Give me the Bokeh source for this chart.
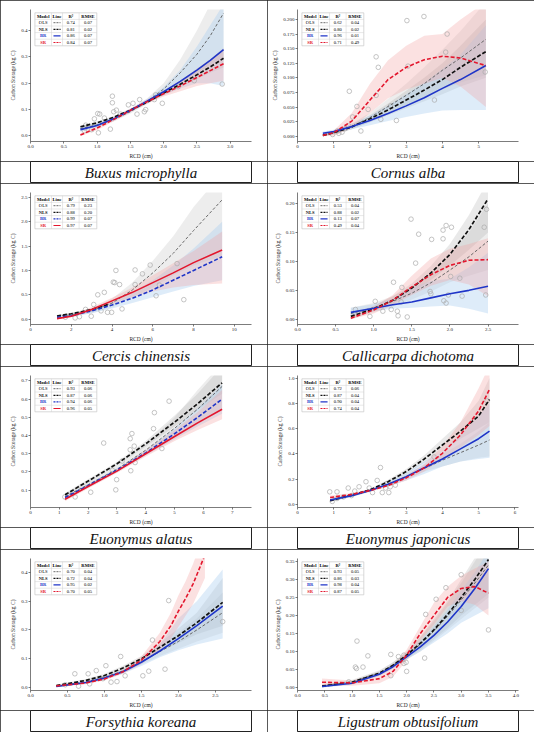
from bokeh.plotting import figure
from bokeh.layouts import gridplot
from bokeh.models import FixedTicker
from bokeh.core.properties import value
from bokeh.embed import file_html
from bokeh.resources import INLINE

SERIF = "Liberation Serif"
MODELS = ["OLS", "NLS", "BR", "SR"]

# ---------------- Panel 1: Buxus microphylla ----------------
p1_name = "Buxus microphylla"
p1_xrange = (0.0, 3.32)
p1_yrange = (-0.021, 0.48)
p1_xticks = [0.0, 0.5, 1.0, 1.5, 2.0, 2.5, 3.0]
p1_xlabels = ["0.0", "0.5", "1.0", "1.5", "2.0", "2.5", "3.0"]
p1_yticks = [0.0, 0.1, 0.2, 0.3, 0.4]
p1_ylabels = ["0.0", "0.1", "0.2", "0.3", "0.4"]
p1_r2 = ["0.74", "0.81", "0.86", "0.84"]
p1_rmse = ["0.07", "0.02", "0.07", "0.07"]
p1_px = [1.23, 1.23, 1.01, 1.04, 1.02, 0.82, 0.81, 0.92, 1.20, 1.25, 1.29, 1.35, 1.54, 1.64, 1.60, 1.71, 1.73, 1.86, 1.98, 2.22, 2.46, 2.88, 1.47, 0.83, 1.11, 0.96, 1.88]
p1_py = [0.151, 0.126, 0.085, 0.083, 0.012, 0.030, 0.020, 0.024, 0.026, 0.092, 0.098, 0.083, 0.124, 0.138, 0.083, 0.092, 0.100, 0.138, 0.124, 0.187, 0.210, 0.197, 0.118, 0.041, 0.068, 0.065, 0.156]
p1_cx = [0.75, 1.0, 1.25, 1.5, 1.75, 2.0, 2.25, 2.5, 2.7, 2.9]
p1_ols = [0.028, 0.042, 0.062, 0.092, 0.13, 0.178, 0.24, 0.31, 0.38, 0.466]
p1_ols_lo = [0.02, 0.035, 0.055, 0.085, 0.12, 0.16, 0.2, 0.24, 0.27, 0.3]
p1_ols_hi = [0.036, 0.05, 0.07, 0.1, 0.142, 0.2, 0.29, 0.4, 0.5, 0.6]
p1_nls = [0.035, 0.05, 0.071, 0.098, 0.128, 0.163, 0.196, 0.232, 0.262, 0.295]
p1_nls_lo = [0.03, 0.045, 0.066, 0.093, 0.123, 0.155, 0.185, 0.215, 0.24, 0.26]
p1_nls_hi = [0.04, 0.055, 0.076, 0.103, 0.134, 0.172, 0.21, 0.255, 0.29, 0.335]
p1_br = [0.024, 0.04, 0.065, 0.097, 0.132, 0.168, 0.207, 0.25, 0.287, 0.328]
p1_br_lo = [0.015, 0.032, 0.058, 0.09, 0.125, 0.155, 0.18, 0.2, 0.2, 0.19]
p1_br_hi = [0.034, 0.048, 0.072, 0.104, 0.14, 0.185, 0.25, 0.34, 0.42, 0.5]
p1_sr = [0.004, 0.03, 0.063, 0.097, 0.13, 0.16, 0.19, 0.222, 0.248, 0.274]
p1_sr_lo = [0.0, 0.022, 0.056, 0.09, 0.122, 0.15, 0.17, 0.19, 0.2, 0.21]
p1_sr_hi = [0.01, 0.038, 0.07, 0.104, 0.138, 0.17, 0.21, 0.255, 0.29, 0.33]

# ---------------- Panel 2: Cornus alba ----------------
p2_name = "Cornus alba"
p2_xrange = (0.0, 6.1)
p2_yrange = (-0.009, 0.217)
p2_xticks = [0, 1, 2, 3, 4, 5]
p2_xlabels = ["0", "1", "2", "3", "4", "5"]
p2_yticks = [0.0, 0.025, 0.05, 0.075, 0.1, 0.125, 0.15, 0.175, 0.2]
p2_ylabels = ["0.000", "0.025", "0.050", "0.075", "0.100", "0.125", "0.150", "0.175", "0.200"]
p2_r2 = ["0.62", "0.80", "0.96", "0.71"]
p2_rmse = ["0.04", "0.02", "0.01", "0.49"]
p2_px = [3.02, 3.49, 4.13, 2.17, 2.23, 3.05, 4.09, 1.43, 2.17, 1.64, 1.52, 1.75, 2.73, 2.30, 5.18, 3.78, 1.14, 1.23, 1.32, 1.41, 1.10, 0.97, 1.95, 2.57]
p2_py = [0.198, 0.205, 0.175, 0.136, 0.118, 0.120, 0.144, 0.077, 0.070, 0.051, 0.033, 0.009, 0.027, 0.029, 0.110, 0.062, 0.005, 0.007, 0.013, 0.018, 0.009, 0.003, 0.046, 0.052]
p2_cx = [0.7, 1.0, 1.5, 2.0, 2.5, 3.0, 3.5, 4.0, 4.5, 5.2]
p2_ols = [0.0015, 0.006, 0.017, 0.032, 0.051, 0.07, 0.09, 0.113, 0.134, 0.166]
p2_ols_lo = [0.0, 0.003, 0.012, 0.024, 0.038, 0.052, 0.066, 0.08, 0.092, 0.105]
p2_ols_hi = [0.004, 0.009, 0.022, 0.04, 0.064, 0.09, 0.118, 0.148, 0.18, 0.23]
p2_nls = [0.0015, 0.006, 0.016, 0.03, 0.045, 0.062, 0.079, 0.097, 0.118, 0.145]
p2_nls_lo = [0.0, 0.003, 0.012, 0.024, 0.036, 0.048, 0.06, 0.072, 0.085, 0.1]
p2_nls_hi = [0.004, 0.009, 0.02, 0.036, 0.056, 0.078, 0.1, 0.125, 0.155, 0.2]
p2_br = [0.005, 0.008, 0.0165, 0.027, 0.039, 0.052, 0.066, 0.082, 0.097, 0.121]
p2_br_lo = [0.002, 0.005, 0.012, 0.019, 0.026, 0.033, 0.039, 0.044, 0.045, 0.045]
p2_br_hi = [0.008, 0.011, 0.021, 0.035, 0.052, 0.072, 0.092, 0.115, 0.14, 0.19]
p2_sr = [0.0015, 0.006, 0.026, 0.062, 0.097, 0.118, 0.131, 0.137, 0.134, 0.121]
p2_sr_lo = [0.0, 0.001, 0.014, 0.04, 0.065, 0.08, 0.09, 0.1, 0.085, 0.05]
p2_sr_hi = [0.004, 0.01, 0.04, 0.09, 0.13, 0.155, 0.172, 0.175, 0.2, 0.23]

# ---------------- Panel 3: Cercis chinensis ----------------
p3_name = "Cercis chinensis"
p3_xrange = (0.0, 10.84)
p3_yrange = (-0.11, 2.6)
p3_xticks = [0, 2, 4, 6, 8, 10]
p3_xlabels = ["0", "2", "4", "6", "8", "10"]
p3_yticks = [0.0, 0.5, 1.0, 1.5, 2.0, 2.5]
p3_ylabels = ["0.0", "0.5", "1.0", "1.5", "2.0", "2.5"]
p3_r2 = ["0.79", "0.88", "0.99", "0.97"]
p3_rmse = ["0.23", "0.20", "0.07", "0.07"]
p3_px = [3.30, 3.62, 4.19, 4.06, 4.13, 4.37, 5.13, 5.49, 5.87, 7.19, 6.16, 7.52, 4.49, 3.98, 3.78, 3.46, 2.98, 2.40, 2.19, 1.71, 5.13, 6.32, 3.10, 2.70]
p3_py = [0.50, 0.55, 1.00, 0.76, 0.75, 0.71, 1.01, 0.93, 1.11, 1.14, 0.48, 0.40, 0.21, 0.14, 0.14, 0.17, 0.06, 0.05, 0.025, 0.04, 0.71, 0.70, 0.30, 0.20]
p3_cx = [1.3, 2.0, 3.0, 4.0, 5.0, 6.0, 7.0, 8.0, 9.4]
p3_ols = [0.06, 0.09, 0.17, 0.33, 0.6, 0.95, 1.35, 1.82, 2.45]
p3_ols_lo = [0.03, 0.06, 0.12, 0.24, 0.45, 0.65, 0.9, 1.1, 1.3]
p3_ols_hi = [0.09, 0.13, 0.22, 0.42, 0.75, 1.2, 1.7, 2.3, 3.0]
p3_nls_x = [1.3, 2.0, 2.5, 3.0, 3.8]
p3_nls = [0.065, 0.11, 0.15, 0.2, 0.3]
p3_nls_lo = [0.05, 0.09, 0.13, 0.17, 0.26]
p3_nls_hi = [0.08, 0.13, 0.17, 0.23, 0.34]
p3_br = [0.04, 0.07, 0.17, 0.29, 0.43, 0.6, 0.8, 1.0, 1.28]
p3_br_lo = [0.02, 0.05, 0.12, 0.22, 0.33, 0.45, 0.57, 0.68, 0.8]
p3_br_hi = [0.06, 0.1, 0.22, 0.37, 0.55, 0.8, 1.1, 1.45, 2.0]
p3_sr = [0.01, 0.06, 0.2, 0.375, 0.55, 0.75, 0.95, 1.16, 1.42]
p3_sr_lo = [0.0, 0.04, 0.16, 0.31, 0.45, 0.57, 0.65, 0.7, 0.73]
p3_sr_hi = [0.03, 0.08, 0.25, 0.44, 0.65, 0.9, 1.15, 1.4, 1.8]

# ---------------- Panel 4: Callicarpa dichotoma ----------------
p4_name = "Callicarpa dichotoma"
p4_xrange = (0.0, 2.9)
p4_yrange = (-0.009, 0.219)
p4_xticks = [0.0, 0.5, 1.0, 1.5, 2.0, 2.5]
p4_xlabels = ["0.0", "0.5", "1.0", "1.5", "2.0", "2.5"]
p4_yticks = [0.0, 0.05, 0.1, 0.15, 0.2]
p4_ylabels = ["0.00", "0.05", "0.10", "0.15", "0.20"]
p4_r2 = ["0.53", "0.88", "0.13", "0.49"]
p4_rmse = ["0.04", "0.02", "0.07", "0.04"]
p4_px = [1.49, 1.59, 1.76, 1.95, 2.02, 1.91, 1.91, 2.45, 2.48, 2.47, 2.16, 2.13, 2.01, 1.98, 1.92, 1.95, 1.74, 1.75, 1.55, 1.26, 1.37, 1.31, 1.32, 1.02, 1.23, 1.12, 0.95, 0.76, 1.44, 1.36]
p4_py = [0.173, 0.147, 0.138, 0.162, 0.159, 0.154, 0.139, 0.159, 0.190, 0.042, 0.040, 0.071, 0.074, 0.042, 0.032, 0.028, 0.048, 0.044, 0.097, 0.064, 0.055, 0.014, 0.006, 0.031, 0.017, 0.014, 0.005, 0.017, 0.004, 0.030]
p4_cx = [0.7, 1.0, 1.25, 1.5, 1.75, 2.0, 2.25, 2.5]
p4_ols = [0.01, 0.02, 0.031, 0.045, 0.063, 0.085, 0.108, 0.135]
p4_ols_lo = [0.0, 0.012, 0.022, 0.034, 0.048, 0.064, 0.075, 0.085]
p4_ols_hi = [0.02, 0.028, 0.04, 0.057, 0.08, 0.11, 0.15, 0.2]
p4_nls = [0.005, 0.018, 0.033, 0.054, 0.08, 0.112, 0.155, 0.208]
p4_nls_lo = [0.0, 0.014, 0.027, 0.046, 0.068, 0.093, 0.12, 0.15]
p4_nls_hi = [0.01, 0.023, 0.04, 0.062, 0.092, 0.13, 0.18, 0.24]
p4_br = [0.012, 0.019, 0.025, 0.03, 0.037, 0.044, 0.05, 0.057]
p4_br_lo = [0.006, 0.014, 0.018, 0.02, 0.022, 0.024, 0.018, 0.01]
p4_br_hi = [0.02, 0.026, 0.035, 0.055, 0.066, 0.07, 0.09, 0.115]
p4_sr = [0.002, 0.016, 0.033, 0.056, 0.077, 0.093, 0.102, 0.103]
p4_sr_lo = [0.0, 0.01, 0.025, 0.042, 0.058, 0.068, 0.06, 0.04]
p4_sr_hi = [0.006, 0.022, 0.042, 0.075, 0.105, 0.122, 0.13, 0.14]

# ---------------- Panel 5: Euonymus alatus ----------------
p5_name = "Euonymus alatus"
p5_xrange = (0.0, 7.67)
p5_yrange = (0.005, 0.73)
p5_xticks = [0, 1, 2, 3, 4, 5, 6, 7]
p5_xlabels = ["0", "1", "2", "3", "4", "5", "6", "7"]
p5_yticks = [0.1, 0.2, 0.3, 0.4, 0.5, 0.6, 0.7]
p5_ylabels = ["0.1", "0.2", "0.3", "0.4", "0.5", "0.6", "0.7"]
p5_r2 = ["0.93", "0.87", "0.94", "0.96"]
p5_rmse = ["0.06", "0.06", "0.06", "0.05"]
p5_px = [4.81, 4.30, 4.27, 3.52, 3.46, 2.54, 3.60, 3.46, 4.56, 3.48, 2.99, 2.96, 2.09, 1.55, 1.19, 3.18, 2.84, 3.63]
p5_py = [0.589, 0.526, 0.438, 0.411, 0.383, 0.359, 0.342, 0.322, 0.329, 0.207, 0.158, 0.102, 0.089, 0.063, 0.063, 0.26, 0.21, 0.252]
p5_cx = [1.2, 2.0, 3.0, 4.0, 5.0, 5.8, 6.65]
p5_ols = [0.065, 0.13, 0.215, 0.32, 0.44, 0.545, 0.67]
p5_ols_lo = [0.05, 0.115, 0.2, 0.3, 0.39, 0.46, 0.55]
p5_ols_hi = [0.08, 0.145, 0.235, 0.35, 0.5, 0.65, 0.8]
p5_nls = [0.075, 0.15, 0.245, 0.355, 0.474, 0.575, 0.69]
p5_nls_lo = [0.065, 0.14, 0.235, 0.34, 0.45, 0.54, 0.63]
p5_nls_hi = [0.085, 0.16, 0.255, 0.37, 0.51, 0.63, 0.78]
p5_br = [0.06, 0.125, 0.21, 0.305, 0.41, 0.5, 0.6]
p5_br_lo = [0.05, 0.115, 0.2, 0.29, 0.38, 0.45, 0.52]
p5_br_hi = [0.07, 0.135, 0.22, 0.32, 0.44, 0.55, 0.68]
p5_sr = [0.05, 0.12, 0.205, 0.3, 0.395, 0.47, 0.545]
p5_sr_lo = [0.04, 0.11, 0.195, 0.285, 0.37, 0.43, 0.49]
p5_sr_hi = [0.06, 0.13, 0.215, 0.32, 0.43, 0.53, 0.65]

# ---------------- Panel 6: Euonymus japonicus ----------------
p6_name = "Euonymus japonicus"
p6_xrange = (0.0, 6.1)
p6_yrange = (-0.024, 1.02)
p6_xticks = [0, 1, 2, 3, 4, 5, 6]
p6_xlabels = ["0", "1", "2", "3", "4", "5", "6"]
p6_yticks = [0.0, 0.2, 0.4, 0.6, 0.8, 1.0]
p6_ylabels = ["0.0", "0.2", "0.4", "0.6", "0.8", "1.0"]
p6_r2 = ["0.72", "0.87", "0.90", "0.74"]
p6_rmse = ["0.06", "0.04", "0.04", "0.04"]
p6_px = [2.29, 1.89, 2.20, 0.89, 1.09, 1.40, 1.70, 1.98, 2.07, 2.34, 2.52, 2.56, 2.70, 2.47, 1.58, 1.49, 1.27, 1.09, 0.96, 3.77, 5.23, 2.43]
p6_py = [0.292, 0.18, 0.19, 0.10, 0.10, 0.13, 0.14, 0.13, 0.094, 0.094, 0.094, 0.14, 0.153, 0.165, 0.106, 0.07, 0.06, 0.047, 0.024, 0.376, 0.82, 0.13]
p6_cx = [0.9, 1.5, 2.0, 2.5, 3.0, 3.5, 4.0, 4.5, 5.0, 5.3]
p6_ols = [0.035, 0.07, 0.11, 0.16, 0.22, 0.285, 0.35, 0.41, 0.47, 0.51]
p6_ols_lo = [0.02, 0.06, 0.1, 0.15, 0.2, 0.26, 0.3, 0.34, 0.37, 0.38]
p6_ols_hi = [0.05, 0.08, 0.12, 0.17, 0.24, 0.31, 0.4, 0.48, 0.58, 0.65]
p6_nls = [0.03, 0.075, 0.115, 0.18, 0.26, 0.36, 0.47, 0.58, 0.70, 0.83]
p6_nls_lo = [0.02, 0.065, 0.105, 0.165, 0.24, 0.33, 0.42, 0.52, 0.6, 0.65]
p6_nls_hi = [0.04, 0.085, 0.125, 0.195, 0.28, 0.39, 0.52, 0.65, 0.82, 1.0]
p6_br = [0.035, 0.07, 0.11, 0.16, 0.22, 0.29, 0.36, 0.44, 0.52, 0.58]
p6_br_lo = [0.025, 0.06, 0.1, 0.145, 0.19, 0.24, 0.3, 0.34, 0.36, 0.37]
p6_br_hi = [0.045, 0.08, 0.12, 0.175, 0.25, 0.34, 0.42, 0.55, 0.7, 0.8]
p6_sr = [0.055, 0.08, 0.11, 0.15, 0.21, 0.29, 0.405, 0.55, 0.74, 0.91]
p6_sr_lo = [0.04, 0.07, 0.1, 0.14, 0.19, 0.26, 0.36, 0.45, 0.55, 0.62]
p6_sr_hi = [0.07, 0.09, 0.12, 0.16, 0.23, 0.32, 0.46, 0.65, 0.92, 1.1]

# ---------------- Panel 7: Forsythia koreana ----------------
p7_name = "Forsythia koreana"
p7_xrange = (0.0, 2.99)
p7_yrange = (-0.01, 0.448)
p7_xticks = [0.0, 0.5, 1.0, 1.5, 2.0, 2.5]
p7_xlabels = ["0.0", "0.5", "1.0", "1.5", "2.0", "2.5"]
p7_yticks = [0.0, 0.1, 0.2, 0.3, 0.4]
p7_ylabels = ["0.0", "0.1", "0.2", "0.3", "0.4"]
p7_r2 = ["0.70", "0.72", "0.95", "0.70"]
p7_rmse = ["0.04", "0.04", "0.02", "0.05"]
p7_px = [1.87, 1.65, 1.22, 1.02, 1.82, 2.60, 1.60, 1.52, 1.28, 1.17, 1.09, 0.89, 0.78, 0.60, 0.80, 0.98, 0.65, 0.47]
p7_py = [0.302, 0.165, 0.108, 0.076, 0.064, 0.229, 0.057, 0.041, 0.041, 0.021, 0.019, 0.059, 0.048, 0.048, 0.013, 0.031, 0.005, 0.010]
p7_cx = [0.35, 0.75, 1.0, 1.25, 1.5, 1.75, 2.0, 2.25, 2.6]
p7_ols = [0.005, 0.02, 0.035, 0.058, 0.09, 0.125, 0.16, 0.2, 0.26]
p7_ols_lo = [0.002, 0.015, 0.03, 0.05, 0.08, 0.11, 0.135, 0.16, 0.19]
p7_ols_hi = [0.008, 0.025, 0.04, 0.066, 0.1, 0.14, 0.19, 0.24, 0.33]
p7_nls = [0.007, 0.025, 0.042, 0.068, 0.10, 0.14, 0.18, 0.225, 0.296]
p7_nls_lo = [0.004, 0.02, 0.036, 0.06, 0.09, 0.125, 0.155, 0.185, 0.215]
p7_nls_hi = [0.01, 0.03, 0.048, 0.076, 0.11, 0.155, 0.205, 0.26, 0.38]
p7_br = [0.004, 0.018, 0.033, 0.055, 0.088, 0.127, 0.17, 0.215, 0.283]
p7_br_lo = [0.002, 0.014, 0.028, 0.048, 0.075, 0.105, 0.13, 0.15, 0.17]
p7_br_hi = [0.007, 0.022, 0.038, 0.062, 0.1, 0.15, 0.24, 0.3, 0.41]
p7_sr_x = [0.35, 0.75, 1.0, 1.25, 1.5, 1.75, 1.9, 2.0, 2.1, 2.2, 2.36]
p7_sr = [0.006, 0.016, 0.03, 0.055, 0.095, 0.16, 0.215, 0.265, 0.31, 0.36, 0.46]
p7_sr_lo = [0.002, 0.012, 0.025, 0.048, 0.082, 0.13, 0.17, 0.21, 0.25, 0.29, 0.38]
p7_sr_hi = [0.01, 0.02, 0.035, 0.062, 0.108, 0.19, 0.26, 0.32, 0.37, 0.43, 0.54]

# ---------------- Panel 8: Ligustrum obtusifolium ----------------
p8_name = "Ligustrum obtusifolium"
p8_xrange = (0.0, 4.05)
p8_yrange = (-0.008, 0.358)
p8_xticks = [0.0, 0.5, 1.0, 1.5, 2.0, 2.5, 3.0, 3.5, 4.0]
p8_xlabels = ["0.0", "0.5", "1.0", "1.5", "2.0", "2.5", "3.0", "3.5", "4.0"]
p8_yticks = [0.0, 0.05, 0.1, 0.15, 0.2, 0.25, 0.3, 0.35]
p8_ylabels = ["0.00", "0.05", "0.10", "0.15", "0.20", "0.25", "0.30", "0.35"]
p8_r2 = ["0.93", "0.86", "0.98", "0.87"]
p8_rmse = ["0.05", "0.03", "0.04", "0.05"]
p8_px = [3.00, 2.72, 2.54, 3.50, 3.00, 2.35, 1.09, 1.29, 1.06, 1.08, 1.20, 1.71, 1.85, 1.95, 1.99, 2.00, 2.33, 1.71, 0.94, 1.95]
p8_py = [0.313, 0.277, 0.245, 0.160, 0.214, 0.203, 0.129, 0.088, 0.057, 0.053, 0.057, 0.092, 0.086, 0.067, 0.070, 0.045, 0.082, 0.033, 0.016, 0.090]
p8_cx = [0.45, 1.0, 1.5, 1.75, 2.0, 2.25, 2.5, 2.75, 3.0, 3.25, 3.5]
p8_ols = [0.005, 0.016, 0.041, 0.062, 0.088, 0.12, 0.157, 0.198, 0.243, 0.29, 0.34]
p8_ols_lo = [0.0, 0.01, 0.033, 0.053, 0.078, 0.1, 0.13, 0.16, 0.19, 0.22, 0.25]
p8_ols_hi = [0.01, 0.022, 0.048, 0.07, 0.098, 0.14, 0.185, 0.235, 0.29, 0.35, 0.41]
p8_nls = [0.004, 0.015, 0.04, 0.062, 0.09, 0.123, 0.16, 0.203, 0.25, 0.3, 0.355]
p8_nls_lo = [0.0, 0.01, 0.034, 0.055, 0.08, 0.105, 0.135, 0.165, 0.2, 0.23, 0.26]
p8_nls_hi = [0.008, 0.02, 0.046, 0.07, 0.1, 0.14, 0.19, 0.24, 0.3, 0.36, 0.42]
p8_br = [0.003, 0.012, 0.037, 0.058, 0.085, 0.113, 0.145, 0.182, 0.225, 0.275, 0.33]
p8_br_lo = [0.0, 0.008, 0.032, 0.052, 0.078, 0.1, 0.125, 0.15, 0.18, 0.2, 0.22]
p8_br_hi = [0.006, 0.016, 0.042, 0.064, 0.095, 0.13, 0.17, 0.215, 0.27, 0.32, 0.38]
p8_sr = [0.015, 0.013, 0.025, 0.045, 0.09, 0.15, 0.2, 0.25, 0.275, 0.28, 0.262]
p8_sr_lo = [0.005, 0.005, 0.012, 0.03, 0.075, 0.13, 0.175, 0.225, 0.24, 0.23, 0.2]
p8_sr_hi = [0.025, 0.02, 0.04, 0.06, 0.105, 0.17, 0.235, 0.28, 0.31, 0.33, 0.35]

# ---------------- styles ----------------
COL = {"OLS": "#5a5a5a", "NLS": "#111111", "BR": "#1f35c8", "SR": "#e3172e"}
BAND = {"OLS": ("#c4c4c4", 0.30), "NLS": ("#9a9a9a", 0.22), "BR": ("#a9cdee", 0.38), "SR": ("#f4a2a2", 0.32)}
WID = {"OLS": 0.9, "NLS": 1.7, "BR": 1.6, "SR": 1.6}
DASH_OLS = "3 2"
DASH_NLS = "4 2"

def spec(name, xr, yr, xt, xl, yt, yl, r2, rmse, px, py, curves, br_dash, sr_dash):
    return dict(name=name, xr=xr, yr=yr, xt=xt, xl=xl, yt=yt, yl=yl, r2=r2, rmse=rmse,
                px=px, py=py, curves=curves, dash={"OLS": DASH_OLS, "NLS": DASH_NLS, "BR": br_dash, "SR": sr_dash})

specs = [
    spec(p1_name, p1_xrange, p1_yrange, p1_xticks, p1_xlabels, p1_yticks, p1_ylabels, p1_r2, p1_rmse, p1_px, p1_py,
         {"OLS": (p1_cx, p1_ols, p1_ols_lo, p1_ols_hi), "NLS": (p1_cx, p1_nls, p1_nls_lo, p1_nls_hi),
          "BR": (p1_cx, p1_br, p1_br_lo, p1_br_hi), "SR": (p1_cx, p1_sr, p1_sr_lo, p1_sr_hi)}, "solid", DASH_NLS),
    spec(p2_name, p2_xrange, p2_yrange, p2_xticks, p2_xlabels, p2_yticks, p2_ylabels, p2_r2, p2_rmse, p2_px, p2_py,
         {"OLS": (p2_cx, p2_ols, p2_ols_lo, p2_ols_hi), "NLS": (p2_cx, p2_nls, p2_nls_lo, p2_nls_hi),
          "BR": (p2_cx, p2_br, p2_br_lo, p2_br_hi), "SR": (p2_cx, p2_sr, p2_sr_lo, p2_sr_hi)}, "solid", DASH_NLS),
    spec(p3_name, p3_xrange, p3_yrange, p3_xticks, p3_xlabels, p3_yticks, p3_ylabels, p3_r2, p3_rmse, p3_px, p3_py,
         {"OLS": (p3_cx, p3_ols, p3_ols_lo, p3_ols_hi), "NLS": (p3_nls_x, p3_nls, p3_nls_lo, p3_nls_hi),
          "BR": (p3_cx, p3_br, p3_br_lo, p3_br_hi), "SR": (p3_cx, p3_sr, p3_sr_lo, p3_sr_hi)}, DASH_NLS, "solid"),
    spec(p4_name, p4_xrange, p4_yrange, p4_xticks, p4_xlabels, p4_yticks, p4_ylabels, p4_r2, p4_rmse, p4_px, p4_py,
         {"OLS": (p4_cx, p4_ols, p4_ols_lo, p4_ols_hi), "NLS": (p4_cx, p4_nls, p4_nls_lo, p4_nls_hi),
          "BR": (p4_cx, p4_br, p4_br_lo, p4_br_hi), "SR": (p4_cx, p4_sr, p4_sr_lo, p4_sr_hi)}, "solid", DASH_NLS),
    spec(p5_name, p5_xrange, p5_yrange, p5_xticks, p5_xlabels, p5_yticks, p5_ylabels, p5_r2, p5_rmse, p5_px, p5_py,
         {"OLS": (p5_cx, p5_ols, p5_ols_lo, p5_ols_hi), "NLS": (p5_cx, p5_nls, p5_nls_lo, p5_nls_hi),
          "BR": (p5_cx, p5_br, p5_br_lo, p5_br_hi), "SR": (p5_cx, p5_sr, p5_sr_lo, p5_sr_hi)}, DASH_NLS, "solid"),
    spec(p6_name, p6_xrange, p6_yrange, p6_xticks, p6_xlabels, p6_yticks, p6_ylabels, p6_r2, p6_rmse, p6_px, p6_py,
         {"OLS": (p6_cx, p6_ols, p6_ols_lo, p6_ols_hi), "NLS": (p6_cx, p6_nls, p6_nls_lo, p6_nls_hi),
          "BR": (p6_cx, p6_br, p6_br_lo, p6_br_hi), "SR": (p6_cx, p6_sr, p6_sr_lo, p6_sr_hi)}, "solid", DASH_NLS),
    spec(p7_name, p7_xrange, p7_yrange, p7_xticks, p7_xlabels, p7_yticks, p7_ylabels, p7_r2, p7_rmse, p7_px, p7_py,
         {"OLS": (p7_cx, p7_ols, p7_ols_lo, p7_ols_hi), "NLS": (p7_cx, p7_nls, p7_nls_lo, p7_nls_hi),
          "BR": (p7_cx, p7_br, p7_br_lo, p7_br_hi), "SR": (p7_sr_x, p7_sr, p7_sr_lo, p7_sr_hi)}, "solid", DASH_NLS),
    spec(p8_name, p8_xrange, p8_yrange, p8_xticks, p8_xlabels, p8_yticks, p8_ylabels, p8_r2, p8_rmse, p8_px, p8_py,
         {"OLS": (p8_cx, p8_ols, p8_ols_lo, p8_ols_hi), "NLS": (p8_cx, p8_nls, p8_nls_lo, p8_nls_hi),
          "BR": (p8_cx, p8_br, p8_br_lo, p8_br_hi), "SR": (p8_cx, p8_sr, p8_sr_lo, p8_sr_hi)}, "solid", DASH_NLS),
]

W = 267
HP = 161
HT = 22
BORDER = {"outline": "1px solid #222222", "outline-offset": "-1px"}

def draw_table(p, s):
    xr, yr = s["xr"], s["yr"]
    X = lambda f: xr[0] + f * (xr[1] - xr[0])
    Y = lambda f: yr[0] + f * (yr[1] - yr[0])
    cols = [0.02, 0.095, 0.145, 0.22, 0.30]
    rows = [0.975, 0.925, 0.875, 0.825, 0.775, 0.725]
    p.quad(left=[X(cols[0])], right=[X(cols[-1])], top=[Y(rows[0])], bottom=[Y(rows[-1])],
           fill_color="white", fill_alpha=0.95, line_color="#bdbdbd", line_width=0.6)
    xs, ys = [], []
    for r in rows[1:-1]:
        xs.append([X(cols[0]), X(cols[-1])]); ys.append([Y(r), Y(r)])
    for c in cols[1:-1]:
        xs.append([X(c), X(c)]); ys.append([Y(rows[0]), Y(rows[-1])])
    p.multi_line(xs=xs, ys=ys, line_color="#d0d0d0", line_width=0.5)
    cc = [(cols[i] + cols[i + 1]) / 2 for i in range(4)]
    rc = [(rows[i] + rows[i + 1]) / 2 for i in range(5)]
    common = dict(text_font=value(SERIF), text_font_size="4.6px", text_align="center", text_baseline="middle")
    p.text(x=[X(c) for c in cc], y=[Y(rc[0])] * 4, text=["Model", "Line", "R\u00b2", "RMSE"],
           text_color="black", text_font_style="bold", **common)
    p.text(x=[X(cc[0])], y=[Y(rc[1])], text=[MODELS[0]], text_color="black", **common)
    p.text(x=[X(cc[0])] * 3, y=[Y(rc[i]) for i in (2, 3, 4)], text=MODELS[1:],
           text_color=[COL["NLS"], COL["BR"], COL["SR"]], text_font_style="bold", **common)
    p.text(x=[X(cc[2])] * 4, y=[Y(r) for r in rc[1:]], text=s["r2"], text_color="black", **common)
    p.text(x=[X(cc[3])] * 4, y=[Y(r) for r in rc[1:]], text=s["rmse"], text_color="black", **common)
    for i, m in enumerate(MODELS):
        yy = Y(rc[i + 1])
        p.line(x=[X(0.104), X(0.136)], y=[yy, yy], line_color=COL[m],
               line_width=min(WID[m], 1.2), line_dash="solid" if s["dash"][m] == "solid" else "2 1")

def make_panel(s):
    p = figure(width=W, height=HP, x_range=s["xr"], y_range=s["yr"], output_backend="svg",
               toolbar_location=None, min_border_left=30, min_border_right=16,
               min_border_top=9, min_border_bottom=0)
    p.styles = BORDER
    p.outline_line_color = None
    p.grid.visible = False
    for m in MODELS:
        cx, cy, lo, hi = s["curves"][m]
        fc, fa = BAND[m]
        p.varea(x=cx, y1=lo, y2=hi, fill_color=fc, fill_alpha=fa)
    p.scatter(x=s["px"], y=s["py"], marker="circle", size=4.6, fill_color=None,
              line_color="#ababab", line_width=0.7)
    for m in MODELS:
        cx, cy, lo, hi = s["curves"][m]
        p.line(x=cx, y=cy, line_color=COL[m], line_width=WID[m], line_dash=s["dash"][m])
    draw_table(p, s)
    p.xaxis.ticker = FixedTicker(ticks=s["xt"])
    p.xaxis.major_label_overrides = dict(zip(s["xt"], s["xl"]))
    p.yaxis.ticker = FixedTicker(ticks=s["yt"])
    p.yaxis.major_label_overrides = dict(zip(s["yt"], s["yl"]))
    p.xaxis.axis_label = "RCD (cm)"
    p.yaxis.axis_label = "Carbon Storage (kg C)"
    for ax in (p.xaxis, p.yaxis):
        ax.major_label_text_font = SERIF
        ax.major_label_text_font_size = "5px"
        ax.major_label_text_color = "#222222"
        ax.axis_label_text_font = SERIF
        ax.axis_label_text_font_size = "5.5px"
        ax.axis_label_text_font_style = "normal"
        ax.axis_label_text_color = "#222222"
        ax.major_tick_out = 2
        ax.major_tick_in = 0
        ax.minor_tick_out = 0
        ax.minor_tick_in = 0
        ax.axis_line_color = "#444444"
        ax.axis_line_width = 0.7
        ax.major_tick_line_color = "#444444"
        ax.major_tick_line_width = 0.7
        ax.major_label_standoff = 1
        ax.axis_label_standoff = 2
    return p

def make_title(name):
    t = figure(width=W, height=HT, x_range=(0, 1), y_range=(0, 1), output_backend="svg",
               toolbar_location=None, x_axis_location=None, y_axis_location=None, min_border=0)
    t.styles = BORDER
    t.grid.visible = False
    t.outline_line_color = "#222222"
    t.text(x=[0.5], y=[0.48], text=[name], text_align="center", text_baseline="middle",
           text_font=value(SERIF), text_font_style="italic", text_font_size="15px", text_color="#111111")
    return t

panels = [make_panel(s) for s in specs]
titles = [make_title(s["name"]) for s in specs]
rows = []
for i in range(0, 8, 2):
    rows.append([panels[i], panels[i + 1]])
    rows.append([titles[i], titles[i + 1]])

grid = gridplot(rows, toolbar_location=None)
open("out.html", "w").write(file_html(grid, INLINE))
